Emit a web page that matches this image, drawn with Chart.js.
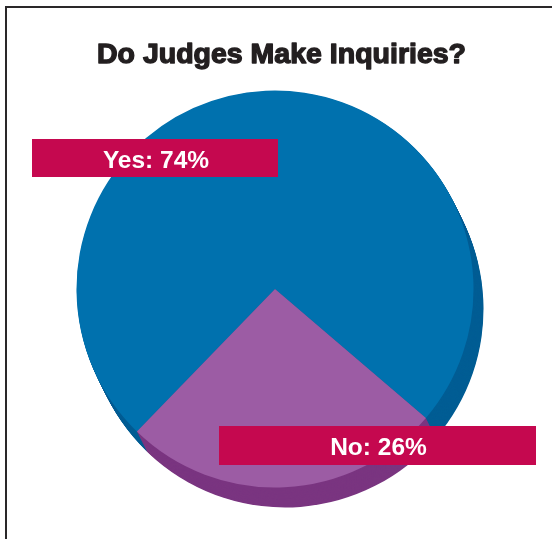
<!DOCTYPE html>
<html>
<head>
<meta charset="utf-8">
<title>Do Judges Make Inquiries?</title>
<script src="https://cdn.jsdelivr.net/npm/chart.js@4/dist/chart.umd.min.js"></script>
<style>
  html, body { margin: 0; padding: 0; background: #ffffff; }
  canvas { display: block; }
</style>
</head>
<body>
<canvas id="chart" width="552" height="539"></canvas>
<script>
// survey answers
const answers = ['Yes', 'No'];
const shares = [74, 26];

const topColors = ['#0071ae', '#9c5ca4'];
const sideColors = ['#005d94', '#7a3580'];
const labelColor = '#c5084f';
const titleText = 'Do Judges Make Inquiries?';

// extrusion of the pie (pixels)
const DEPTH_X = 10;
const DEPTH_Y = 20;
const DEPTH_STEPS = 24;

// label boxes, placed relative to the pie centre
const labelBoxes = [
  { dx: -243, dy: -150, w: 246, h: 38 },
  { dx: -56, dy: 137, w: 317, h: 39 },
];

// frame lines along the top and left edge, plus the heading
const framePlugin = {
  id: 'frame',
  beforeDraw(chart) {
    const ctx = chart.ctx;
    ctx.save();
    ctx.fillStyle = '#ffffff';
    ctx.fillRect(0, 0, chart.width, chart.height);
    ctx.fillStyle = '#2a2829';
    ctx.fillRect(5, 6, chart.width - 5, 2);
    ctx.fillRect(5, 6, 2, chart.height - 6);
    ctx.restore();
  },
  afterDraw(chart) {
    const ctx = chart.ctx;
    ctx.save();
    ctx.fillStyle = '#231f20';
    ctx.strokeStyle = '#231f20';
    ctx.lineWidth = 1.4;
    ctx.lineJoin = 'round';
    ctx.font = 'bold 28.5px "Liberation Sans", Arial, sans-serif';
    ctx.textAlign = 'center';
    ctx.textBaseline = 'alphabetic';
    ctx.fillText(titleText, 281.5, 63);
    ctx.strokeText(titleText, 281.5, 63);
    ctx.restore();
  }
};

// draws the side of the pie as stacked, shifted copies of each slice
const depthPlugin = {
  id: 'depth',
  beforeDatasetsDraw(chart) {
    const ctx = chart.ctx;
    const arcs = chart.getDatasetMeta(0).data;
    ctx.save();
    for (let k = DEPTH_STEPS; k >= 1; k--) {
      const t = k / DEPTH_STEPS;
      arcs.forEach((arc, i) => {
        const p = arc.getProps(['x', 'y', 'startAngle', 'endAngle', 'outerRadius'], true);
        const x = p.x + DEPTH_X * t;
        const y = p.y + DEPTH_Y * t;
        ctx.beginPath();
        ctx.moveTo(x, y);
        ctx.arc(x, y, p.outerRadius, p.startAngle, p.endAngle);
        ctx.closePath();
        ctx.fillStyle = sideColors[i];
        ctx.fill();
      });
    }
    ctx.restore();
  }
};

// magenta label bars with the answer and its share
const labelPlugin = {
  id: 'labelBars',
  afterDatasetsDraw(chart) {
    const ctx = chart.ctx;
    const arcs = chart.getDatasetMeta(0).data;
    ctx.save();
    arcs.forEach((arc, i) => {
      const box = labelBoxes[i];
      const left = arc.x + box.dx;
      const top = arc.y + box.dy;
      ctx.fillStyle = labelColor;
      ctx.fillRect(left, top, box.w, box.h);
      ctx.fillStyle = '#ffffff';
      ctx.font = 'bold 24.5px "Liberation Sans", Arial, sans-serif';
      ctx.textAlign = 'center';
      ctx.textBaseline = 'alphabetic';
      ctx.fillText(`${answers[i]}: ${shares[i]}%`, left + box.w / 2 + 1, top + 29);
    });
    ctx.restore();
  }
};

const ctx = document.getElementById('chart').getContext('2d');
new Chart(ctx, {
  type: 'pie',
  data: {
    labels: answers,
    datasets: [{
      data: shares,
      backgroundColor: topColors,
      borderWidth: 0,
      hoverOffset: 0,
    }],
  },
  options: {
    responsive: false,
    animation: false,
    rotation: -135.9,
    layout: {
      padding: { top: 90.5, bottom: 51.5, left: 76.5, right: 78.5 },
    },
    plugins: {
      legend: { display: false },
      tooltip: { enabled: false },
      title: { display: false },
    },
    events: [],
  },
  plugins: [framePlugin, depthPlugin, labelPlugin],
});
</script>
</body>
</html>
